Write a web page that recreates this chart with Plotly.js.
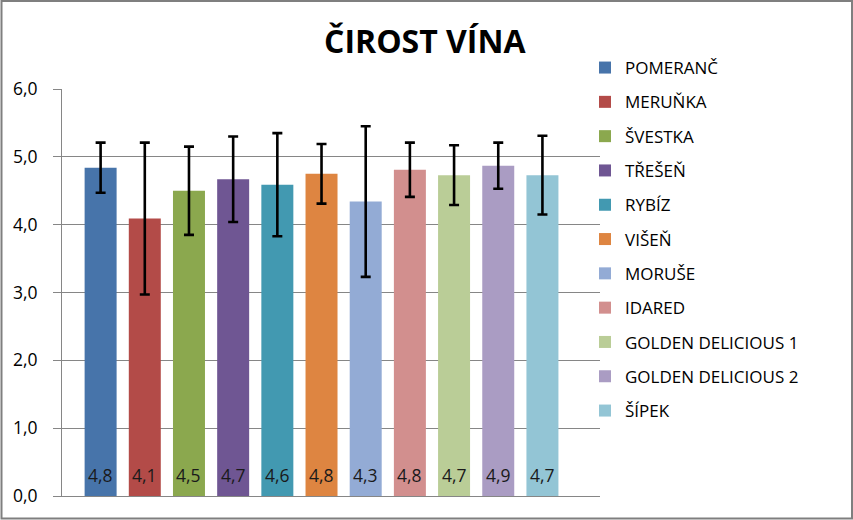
<!DOCTYPE html>
<html>
<head>
<meta charset="utf-8">
<script src="https://cdn.plot.ly/plotly-3.0.1.min.js"></script>
<style>
html,body{margin:0;padding:0;background:#fff;}
#chart{width:853px;height:520px;}
</style>
</head>
<body>
<div id="chart"></div>
<script>
const seriesNames = ["POMERANČ","MERUŇKA","ŠVESTKA","TŘEŠEŇ","RYBÍZ","VIŠEŇ","MORUŠE","IDARED","GOLDEN DELICIOUS 1","GOLDEN DELICIOUS 2","ŠÍPEK"];
const values = [4.84, 4.09, 4.50, 4.67, 4.59, 4.75, 4.34, 4.81, 4.73, 4.87, 4.73];
const errors = [0.37, 1.12, 0.65, 0.63, 0.76, 0.44, 1.11, 0.40, 0.44, 0.34, 0.58];
const colors = ["#4774aa","#b34b48","#8ba84e","#6f5693","#4299b1","#de8541","#93abd5","#d28f8e","#bacd97","#aa9cc3","#93c5d5"];
const category = [""];

const bargap = 0.1;
const n = seriesNames.length;
const slot = (1 - bargap) / n;

const traces = seriesNames.map((name, i) => ({
  type: "bar",
  name: name,
  legendgroup: "g" + i,
  x: category,
  y: [values[i]],
  marker: {color: colors[i]},
  error_y: {type: "data", array: [errors[i]], visible: true, color: "#000", thickness: 2.6, width: 5},
  hoverinfo: "name+y"
}));

const fmt = v => v.toFixed(1).replace(".", ",");
const annotations = values.map((v, i) => ({
  xref: "x", yref: "y",
  x: (i - (n - 1) / 2) * slot,
  y: 0,
  text: fmt(v),
  showarrow: false,
  xanchor: "center", yanchor: "middle",
  yshift: 21,
  font: {family: "Open Sans, sans-serif", size: 17.5, color: "#1a1a1a"}
}));

const pl = 62, pr = 600, pt = 89, pb = 496;
const pw = pr - pl, ph = pb - pt;

const layout = {
  width: 853, height: 520,
  margin: {l: pl, r: 853 - pr, t: pt, b: 520 - pb, pad: 0},
  paper_bgcolor: "#fff", plot_bgcolor: "#fff",
  separators: ", ",
  font: {family: "Open Sans, sans-serif", size: 17, color: "#000"},
  title: {
    text: "<b>ČIROST VÍNA</b>",
    font: {family: "Open Sans, sans-serif", size: 32, color: "#000"},
    xref: "container", x: 0.498, xanchor: "center",
    yref: "container", y: 1 - 42/520, yanchor: "middle"
  },
  barmode: "group",
  bargap: bargap,
  bargroupgap: 0.276,
  xaxis: {
    range: [-0.4806, 0.5157],
    showticklabels: false, ticks: "",
    showgrid: false, zeroline: false,
    showline: true, linecolor: "#868686", linewidth: 1,
    fixedrange: true
  },
  yaxis: {
    range: [0, 6], dtick: 1, tick0: 0, tickformat: ".1f",
    showgrid: true, gridcolor: "#868686", gridwidth: 1,
    zeroline: false,
    showline: true, linecolor: "#868686", linewidth: 1,
    ticks: "outside", ticklen: 8, tickcolor: "#868686",
    ticklabelstandoff: 12,
    tickfont: {family: "Open Sans, sans-serif", size: 17.5, color: "#000"}
  },
  showlegend: true,
  legend: {
    x: (585 - pl) / pw, xanchor: "left",
    y: (pb - 50) / ph, yanchor: "top",
    font: {family: "Open Sans, sans-serif", size: 17, color: "#000"},
    traceorder: "grouped",
    tracegroupgap: 9.2,
    maxheight: 700,
    bgcolor: "rgba(0,0,0,0)"
  },
  annotations: annotations,
  shapes: [{
    type: "rect", xref: "paper", yref: "paper",
    x0: (1.5 - pl) / pw, x1: (852 - pl) / pw,
    y0: (pb - 518.5) / ph, y1: (pb - 1) / ph,
    line: {color: "#7f7f7f", width: 2}, fillcolor: "rgba(0,0,0,0)", layer: "above"
  }]
};

Plotly.newPlot("chart", traces, layout, {displayModeBar: false, staticPlot: true});
</script>
</body>
</html>
